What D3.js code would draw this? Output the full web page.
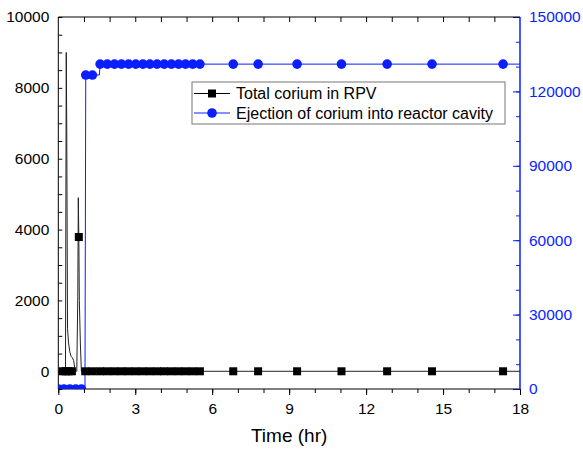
<!DOCTYPE html>
<html>
<head>
<meta charset="utf-8">
<script src="https://cdn.jsdelivr.net/npm/d3@7"></script>
<style>
  body { margin: 0; background: #fff; }
  text { font-family: "Liberation Sans", Arial, sans-serif; }
</style>
</head>
<body>
<div id="chart"></div>
<script>
// total corium in RPV (left axis) - full line
const rpvTime = [0, 0.1, 0.2, 0.28, 0.31, 0.33, 0.36, 0.4, 0.45, 0.5, 0.55, 0.6, 0.66, 0.72, 0.76, 0.78, 0.8, 0.82, 0.86, 0.9, 0.95, 1.05, 5.52, 6.82, 7.79, 9.31, 11.04, 12.82, 14.57, 17.34, 18];
const rpvValue = [0, 0, 0, 0, 9000, 6800, 1200, 800, 550, 420, 380, 300, 0, 0, 2100, 4900, 3790, 2000, 800, 0, 0, 0, 0, 0, 0, 0, 0, 0, 0, 0, 0];
// markers shown on the RPV curve
const rpvMarkTime = [0.16, 0.28, 0.4, 0.53, 0.8, 1.05, 1.33, 1.63, 1.9, 2.18, 2.46, 2.73, 3.01, 3.29, 3.57, 3.85, 4.12, 4.4, 4.68, 4.96, 5.24, 5.52, 6.82, 7.79, 9.31, 11.04, 12.82, 14.57, 17.34];
const rpvMarkValue = [0, 0, 0, 0, 3790, 0, 0, 0, 0, 0, 0, 0, 0, 0, 0, 0, 0, 0, 0, 0, 0, 0, 0, 0, 0, 0, 0, 0, 0];

// ejection of corium into reactor cavity (right axis)
const cavTime = [0, 0.22, 0.45, 0.68, 0.9, 1.04, 1.07, 1.33, 1.6, 1.63, 1.91, 2.19, 2.46, 2.74, 3.02, 3.3, 3.57, 3.85, 4.13, 4.41, 4.69, 4.96, 5.24, 5.52, 6.82, 7.79, 9.31, 11.04, 12.82, 14.57, 17.34, 18];
const cavValue = [0, 0, 0, 0, 0, 0, 126600, 126600, 126600, 131000, 131000, 131000, 131000, 131000, 131000, 131000, 131000, 131000, 131000, 131000, 131000, 131000, 131000, 131000, 131000, 131000, 131000, 131000, 131000, 131000, 131000, 131000];
const cavMarked = [1, 1, 1, 1, 1, 0, 1, 1, 0, 1, 1, 1, 1, 1, 1, 1, 1, 1, 1, 1, 1, 1, 1, 1, 1, 1, 1, 1, 1, 1, 1, 0];

const xTicks = [0, 3, 6, 9, 12, 15, 18];
const leftTicks = [0, 2000, 4000, 6000, 8000, 10000];
const rightTicks = [0, 30000, 60000, 90000, 120000, 150000];
const legendLabels = ["Total corium in RPV", "Ejection of corium into reactor cavity"];

const BLUE = "#0a1eff";
const W = 583, H = 451;
const plot = { left: 58.3, right: 520, top: 17, bottom: 389 };

const svg = d3.select("#chart").append("svg").attr("width", W).attr("height", H);

const x = d3.scaleLinear().domain([0, 18]).range([plot.left, plot.right]);
const yL = d3.scaleLinear().domain([-500, 10000]).range([plot.bottom, plot.top]);
const yR = d3.scaleLinear().domain([0, 150000]).range([plot.bottom, plot.top]);

svg.append("clipPath").attr("id", "clip")
  .append("rect")
  .attr("x", plot.left).attr("y", plot.top)
  .attr("width", plot.right - plot.left).attr("height", plot.bottom - plot.top);

const fmt = d3.format("d");

// bottom axis - ticks outward
svg.append("g")
  .attr("transform", "translate(0," + plot.bottom + ")")
  .call(d3.axisBottom(x).tickValues(d3.range(0, 19, 1)).tickSize(4).tickFormat(""))
  .call((g) => g.select(".domain").remove())
  .call((g) => g.selectAll("line").attr("stroke", "#000"));
svg.append("g")
  .attr("transform", "translate(0," + plot.bottom + ")")
  .call(d3.axisBottom(x).tickValues(xTicks).tickSize(6).tickPadding(8).tickFormat(fmt))
  .call((g) => g.select(".domain").remove())
  .call((g) => g.selectAll("text").attr("font-size", "15.5px").attr("fill", "#000").attr("font-family", "Liberation Sans, Arial, sans-serif"));

// top axis - inward ticks each hour
svg.append("g")
  .attr("transform", "translate(0," + plot.top + ")")
  .call(d3.axisBottom(x).tickValues(d3.range(1, 18, 1)).tickSize(5).tickFormat(""))
  .call((g) => g.select(".domain").remove());

// left axis - inward ticks
svg.append("g")
  .attr("transform", "translate(" + plot.left + ",0)")
  .call(d3.axisRight(yL).tickValues(d3.range(-500, 10001, 500)).tickSize(4).tickFormat(""))
  .call((g) => g.select(".domain").remove());
svg.append("g")
  .attr("transform", "translate(" + plot.left + ",0)")
  .call(d3.axisLeft(yL).tickValues(leftTicks).tickSize(0).tickPadding(9).tickFormat(fmt))
  .call((g) => g.select(".domain").remove())
  .call((g) => g.selectAll("text").attr("font-size", "15.5px").attr("fill", "#000").attr("font-family", "Liberation Sans, Arial, sans-serif"));

// right axis (blue) - inward ticks
svg.append("g")
  .attr("transform", "translate(" + plot.right + ",0)")
  .call(d3.axisLeft(yR).tickValues(d3.range(0, 150001, 10000)).tickSize(4).tickFormat(""))
  .call((g) => g.select(".domain").remove())
  .call((g) => g.selectAll("line").attr("stroke", BLUE));
svg.append("g")
  .attr("transform", "translate(" + plot.right + ",0)")
  .call(d3.axisLeft(yR).tickValues(rightTicks).tickSize(7).tickFormat(""))
  .call((g) => g.select(".domain").remove())
  .call((g) => g.selectAll("line").attr("stroke", BLUE));
svg.append("g")
  .attr("transform", "translate(" + plot.right + ",0)")
  .call(d3.axisRight(yR).tickValues(rightTicks).tickSize(0).tickPadding(9).tickFormat(fmt))
  .call((g) => g.select(".domain").remove())
  .call((g) => g.selectAll("text").attr("font-size", "15.5px").attr("fill", BLUE).attr("font-family", "Liberation Sans, Arial, sans-serif"));

// frame lines
svg.append("line").attr("x1", plot.left).attr("x2", plot.right).attr("y1", plot.top).attr("y2", plot.top).attr("stroke", "#000");
svg.append("line").attr("x1", plot.left).attr("x2", plot.right).attr("y1", plot.bottom).attr("y2", plot.bottom).attr("stroke", "#000");
svg.append("line").attr("x1", plot.left).attr("x2", plot.left).attr("y1", plot.top).attr("y2", plot.bottom).attr("stroke", "#000");
svg.append("line").attr("x1", plot.right).attr("x2", plot.right).attr("y1", plot.top).attr("y2", plot.bottom + 0.5).attr("stroke", BLUE).attr("stroke-width", 1.5);

// x axis title
svg.append("text")
  .attr("x", (plot.left + plot.right) / 2)
  .attr("y", 442)
  .attr("text-anchor", "middle")
  .attr("font-size", "19px")
  .text("Time (hr)");

const data = svg.append("g").attr("clip-path", "url(#clip)");

// cavity series (behind)
const cav = cavTime.map((t, i) => ({ t: t, v: cavValue[i], m: cavMarked[i] }));
data.append("path")
  .datum(cav)
  .attr("fill", "none")
  .attr("stroke", BLUE)
  .attr("stroke-width", 1)
  .attr("d", d3.line().x((d) => x(d.t)).y((d) => yR(d.v)));
data.selectAll(".cav-dot")
  .data(cav.filter((d) => d.m))
  .enter()
  .append("circle")
  .attr("class", "cav-dot")
  .attr("cx", (d) => x(d.t))
  .attr("cy", (d) => yR(d.v))
  .attr("r", 4.8)
  .attr("fill", BLUE);

// RPV series (on top)
const rpv = rpvTime.map((t, i) => ({ t: t, v: rpvValue[i] }));
data.append("path")
  .datum(rpv)
  .attr("fill", "none")
  .attr("stroke", "#222")
  .attr("stroke-width", 1)
  .attr("d", d3.line().x((d) => x(d.t)).y((d) => yL(d.v)));
data.selectAll(".rpv-dot")
  .data(rpvMarkTime.map((t, i) => ({ t: t, v: rpvMarkValue[i] })))
  .enter()
  .append("rect")
  .attr("class", "rpv-dot")
  .attr("x", (d) => x(d.t) - 4)
  .attr("y", (d) => yL(d.v) - 4)
  .attr("width", 8)
  .attr("height", 8)
  .attr("fill", "#000");

// legend
const leg = svg.append("g").attr("transform", "translate(192,82)");
leg.append("rect")
  .attr("width", 313).attr("height", 42)
  .attr("fill", "#fff").attr("stroke", "#777").attr("stroke-width", 1);
const legColors = ["#000", BLUE];
legendLabels.forEach((label, i) => {
  const cy = 11.5 + i * 19.5;
  leg.append("line").attr("x1", 2).attr("x2", 38).attr("y1", cy).attr("y2", cy)
    .attr("stroke", legColors[i]).attr("stroke-width", 1);
  if (i === 0) {
    leg.append("rect").attr("x", 20 - 4).attr("y", cy - 4).attr("width", 8).attr("height", 8).attr("fill", "#000");
  } else {
    leg.append("circle").attr("cx", 20).attr("cy", cy).attr("r", 4.8).attr("fill", BLUE);
  }
  leg.append("text")
    .attr("x", 44)
    .attr("y", cy)
    .attr("dy", "0.36em")
    .attr("font-size", "16px")
    .text(label);
});
</script>
</body>
</html>
